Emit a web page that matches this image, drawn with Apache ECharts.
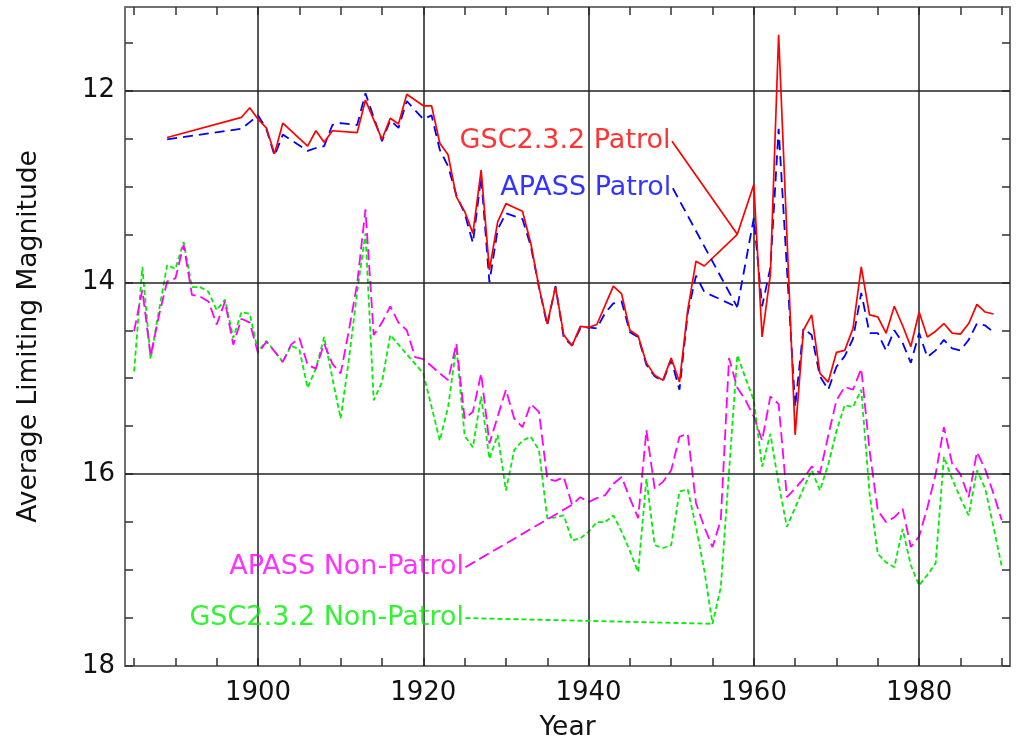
<!DOCTYPE html>
<html>
<head>
<meta charset="utf-8">
<script src="https://cdn.jsdelivr.net/npm/echarts@6.0.0/dist/echarts.min.js"></script>
<style>
html,body{margin:0;padding:0;background:#fff;}
#chart{width:1019px;height:744px;}
</style>
</head>
<body>
<div id="chart"></div>
<script>
// ---- Data (year, average limiting magnitude) ----
const gscPatrolYears = [1889,1898,1899,1900,1901,1902,1903,1906,1907,1908,1909,1912,1913,1915,1916,1917,1918,1920,1921,1922,1923,1924,1925,1926,1927,1928,1929,1930,1931,1932,1933,1934,1935,1936,1937,1938,1939,1940,1941,1942,1943,1944,1945,1946,1947,1948,1949,1950,1951,1952,1953,1954,1958,1960,1961,1962,1963,1965,1966,1967,1968,1969,1970,1971,1972,1973,1974,1975,1976,1977,1978,1979,1980,1981,1982,1983,1984,1985,1986,1987,1988,1989];
const gscPatrolMag = [12.49,12.28,12.18,12.30,12.39,12.66,12.34,12.58,12.42,12.54,12.42,12.44,12.10,12.51,12.29,12.35,12.04,12.16,12.16,12.55,12.67,13.11,13.26,13.49,12.83,13.87,13.37,13.18,13.22,13.26,13.59,14.05,14.43,14.05,14.55,14.66,14.46,14.47,14.44,14.24,14.04,14.12,14.50,14.56,14.84,14.97,15.02,14.79,15.04,14.29,13.78,13.83,13.50,12.98,14.57,13.92,11.42,15.59,14.50,14.34,14.95,15.04,14.73,14.71,14.48,13.84,14.34,14.36,14.53,14.25,14.45,14.67,14.31,14.57,14.51,14.43,14.53,14.54,14.43,14.23,14.31,14.33];

const apassPatrolYears = [1889,1898,1899,1900,1901,1902,1903,1906,1907,1908,1909,1910,1912,1913,1915,1916,1917,1918,1920,1921,1922,1923,1924,1925,1926,1927,1928,1929,1930,1931,1932,1933,1934,1935,1936,1937,1938,1939,1940,1941,1942,1943,1944,1945,1946,1947,1948,1949,1950,1951,1952,1953,1954,1958,1960,1961,1962,1963,1965,1966,1967,1968,1969,1970,1971,1972,1973,1974,1975,1976,1977,1978,1979,1980,1981,1982,1983,1984,1985,1986,1987,1988,1989];
const apassPatrolMag = [12.51,12.40,12.33,12.26,12.40,12.68,12.46,12.63,12.60,12.58,12.36,12.34,12.36,12.03,12.53,12.31,12.39,12.11,12.30,12.26,12.62,12.79,13.09,13.28,13.59,12.90,14.00,13.45,13.28,13.31,13.34,13.62,14.05,14.45,14.04,14.58,14.66,14.48,14.47,14.48,14.32,14.22,14.20,14.52,14.57,14.86,14.98,15.03,14.81,15.12,14.32,13.93,14.10,14.26,13.33,14.25,13.85,12.40,15.30,14.48,14.55,14.98,15.12,14.88,14.77,14.59,14.11,14.53,14.53,14.71,14.50,14.63,14.84,14.53,14.78,14.71,14.60,14.69,14.71,14.60,14.43,14.45,14.52];

const apassNonPatrolYears = [1885,1886,1887,1888,1889,1890,1891,1892,1893,1894,1895,1896,1897,1898,1899,1900,1901,1902,1903,1904,1905,1906,1907,1908,1909,1910,1911,1912,1913,1914,1915,1916,1917,1918,1919,1920,1922,1923,1924,1925,1926,1927,1928,1929,1930,1931,1932,1933,1934,1935,1936,1937,1938,1939,1940,1941,1942,1943,1944,1945,1946,1947,1948,1949,1950,1951,1952,1953,1954,1955,1956,1957,1958,1959,1960,1961,1962,1963,1964,1965,1966,1967,1968,1969,1970,1971,1972,1973,1974,1975,1976,1977,1978,1979,1980,1981,1982,1983,1984,1985,1986,1987,1988,1989,1990];
const apassNonPatrolMag = [14.51,14.08,14.77,14.35,13.99,13.96,13.61,14.13,14.15,14.20,14.44,14.20,14.65,14.38,14.42,14.74,14.62,14.72,14.83,14.65,14.58,14.86,14.90,14.64,14.85,14.95,14.50,14.01,13.24,14.55,14.42,14.25,14.42,14.50,14.78,14.80,14.95,15.02,14.64,15.42,15.35,14.95,15.68,15.40,15.12,15.42,15.51,15.27,15.35,16.05,16.07,16.03,16.32,16.24,16.29,16.25,16.22,16.10,16.03,16.25,16.46,15.54,16.15,16.08,15.96,15.61,15.58,16.30,16.55,16.76,16.48,14.79,15.10,15.23,15.40,15.65,15.19,15.27,16.24,16.15,16.05,15.92,15.99,15.60,15.23,15.09,15.12,14.90,15.75,16.38,16.50,16.45,16.36,16.76,16.65,16.35,16.00,15.51,15.89,16.00,16.24,15.77,15.95,16.20,16.48];

const gscNonPatrolYears = [1885,1886,1887,1888,1889,1890,1891,1892,1893,1894,1895,1896,1897,1898,1899,1900,1901,1902,1903,1904,1905,1906,1907,1908,1909,1910,1911,1912,1913,1914,1915,1916,1920,1922,1923,1924,1925,1926,1927,1928,1929,1930,1931,1932,1933,1934,1935,1936,1937,1938,1939,1940,1941,1942,1943,1944,1945,1946,1947,1948,1949,1950,1951,1952,1953,1954,1955,1956,1958,1959,1960,1961,1962,1963,1964,1965,1966,1967,1968,1969,1970,1971,1972,1973,1974,1975,1976,1977,1978,1979,1980,1981,1982,1983,1984,1985,1986,1987,1988,1989,1990];
const gscNonPatrolMag = [14.93,13.84,14.80,14.30,13.82,13.86,13.58,14.05,14.05,14.10,14.29,14.18,14.58,14.31,14.33,14.72,14.61,14.72,14.83,14.66,14.70,15.10,14.90,14.57,15.00,15.42,14.80,14.10,13.49,15.23,15.04,14.55,14.95,15.65,15.30,14.67,15.60,15.72,15.19,15.84,15.59,16.17,15.75,15.65,15.61,15.75,16.46,16.45,16.43,16.69,16.67,16.60,16.50,16.50,16.43,16.60,16.80,17.02,16.05,16.74,16.77,16.74,16.18,16.16,16.55,17.00,17.56,17.18,14.76,15.00,15.23,15.92,15.58,16.10,16.55,16.35,16.15,15.96,16.17,15.90,15.55,15.28,15.30,15.12,16.20,16.83,16.92,16.97,16.57,16.95,17.16,17.05,16.93,15.82,16.05,16.25,16.43,15.96,16.15,16.55,16.96];

// Label annotations: text, label anchor (year, mag), leader-line target (year, mag)
const labelTexts = ['GSC2.3.2 Patrol', 'APASS Patrol', 'APASS Non-Patrol', 'GSC2.3.2 Non-Patrol'];
const labelAnchorYear = [1950.1, 1950.2, 1925.1, 1925.1];
const labelAnchorMag = [12.53, 13.02, 16.97, 17.50];
const labelTargetYear = [1958, 1958, 1938, 1955];
const labelTargetMag = [13.50, 14.26, 16.32, 17.56];

// Axis ticks / labels
const xTickValues = [1885,1890,1895,1900,1905,1910,1915,1920,1925,1930,1935,1940,1945,1950,1955,1960,1965,1970,1975,1980,1985,1990];
const xLabelValues = [1900,1920,1940,1960,1980];
const yTickValues = [11.5,12,12.5,13,13.5,14,14.5,15,15.5,16,16.5,17,17.5,18];
const yLabelValues = [12,14,16,18];
const xGridValues = [1900,1920,1940,1960,1980];
const yGridValues = [12,14,16];

const X_MIN = 1883.9, X_MAX = 1991.0, Y_MIN = 11.13, Y_MAX = 18;

function pairs(xs, ys){ return xs.map((x,i)=>[x, ys[i]]); }

const FONT = 'DejaVu Sans';
const colors = ['#ff0000', '#0000ff', '#ff00ff', '#00ee00'];
const lineStyles = [
  {width:1.7, type:'solid'},
  {width:1.8, type:[10,6]},
  {width:1.8, type:[11,5]},
  {width:1.8, type:[5,3]}
];

const chart = echarts.init(document.getElementById('chart'), null, {renderer:'canvas'});

const frameColor = '#707070';
function xAxisCfg(pos, showLabels){
  return {
    type:'value', min:X_MIN, max:X_MAX, position:pos,
    axisLine:{show:true, onZero:false, lineStyle:{color:frameColor, width:2}},
    axisTick:{show:true, inside:true, length:8, customValues:xTickValues, lineStyle:{color:'#333', width:1.5}},
    axisLabel:{show:showLabels, customValues:xLabelValues, formatter:v=>String(Math.round(v)),
      fontFamily:FONT, fontSize:26, color:'#111', margin:14},
    splitLine:{show:false},
    name: showLabels ? 'Year' : '',
    nameLocation:'middle', nameGap:49,
    nameTextStyle:{fontFamily:FONT, fontSize:26.5, color:'#111'}
  };
}
function yAxisCfg(pos, showLabels){
  return {
    type:'value', min:Y_MIN, max:Y_MAX, inverse:true, position:pos,
    axisLine:{show:true, onZero:false, lineStyle:{color:frameColor, width:2}},
    axisTick:{show:true, inside:true, length:8, customValues:yTickValues, lineStyle:{color:'#333', width:1.5}},
    axisLabel:{show:showLabels, customValues:yLabelValues, formatter:v=>String(Math.round(v)),
      fontFamily:FONT, fontSize:26, color:'#111', margin:10},
    splitLine:{show:false},
    name: showLabels ? 'Average Limiting Magnitude' : '',
    nameLocation:'middle', nameGap:82, nameRotate:90,
    nameTextStyle:{fontFamily:FONT, fontSize:26.5, color:'#111'}
  };
}

const dataSeries = [
  {xs:gscNonPatrolYears, ys:gscNonPatrolMag, ci:3},
  {xs:apassNonPatrolYears, ys:apassNonPatrolMag, ci:2},
  {xs:apassPatrolYears, ys:apassPatrolMag, ci:1},
  {xs:gscPatrolYears, ys:gscPatrolMag, ci:0}
];

const series = [];
// Grid lines via markLine on a helper series
series.push({
  type:'line', xAxisIndex:0, yAxisIndex:0, data:[[xGridValues[0], yGridValues[0]]],
  showSymbol:false, symbol:'none', silent:true, z:1, lineStyle:{opacity:0},
  markLine:{
    silent:true, symbol:['none','none'], animation:false,
    label:{show:false},
    lineStyle:{color:'#222', width:1.5, type:'solid'},
    data: xGridValues.map(v=>({xAxis:v})).concat(yGridValues.map(v=>({yAxis:v})))
  }
});
dataSeries.forEach((d,k)=>{
  series.push({
    type:'line', xAxisIndex:0, yAxisIndex:0, data:pairs(d.xs, d.ys),
    showSymbol:false, symbol:'none', z:3+k, animation:false,
    lineStyle:Object.assign({color:colors[d.ci]}, lineStyles[d.ci])
  });
});
labelTexts.forEach((t,i)=>{
  // leader line
  series.push({
    type:'line', xAxisIndex:0, yAxisIndex:0, z:8, animation:false, silent:true,
    showSymbol:false, symbol:'none',
    data:[[labelAnchorYear[i], labelAnchorMag[i]], [labelTargetYear[i], labelTargetMag[i]]],
    lineStyle:Object.assign({color:colors[i]}, lineStyles[i])
  });
  // label text at anchor
  series.push({
    type:'scatter', xAxisIndex:0, yAxisIndex:0, z:9, animation:false, silent:true,
    symbol:'circle', symbolSize:1,
    itemStyle:{color:'rgba(255,255,255,0)'},
    data:[[labelAnchorYear[i], labelAnchorMag[i]]],
    label:{show:true, position:'left', distance:1, formatter:t,
      fontFamily:FONT, fontSize:27, color:colors[i]}
  });
});

chart.setOption({
  animation:false,
  backgroundColor:'#fff',
  grid:{left:125, right:9, top:7, bottom:78, containLabel:false, outerBoundsMode:'none'},
  xAxis:[xAxisCfg('bottom', true), xAxisCfg('top', false)],
  yAxis:[yAxisCfg('left', true), yAxisCfg('right', false)],
  series:series
});
</script>
</body>
</html>
